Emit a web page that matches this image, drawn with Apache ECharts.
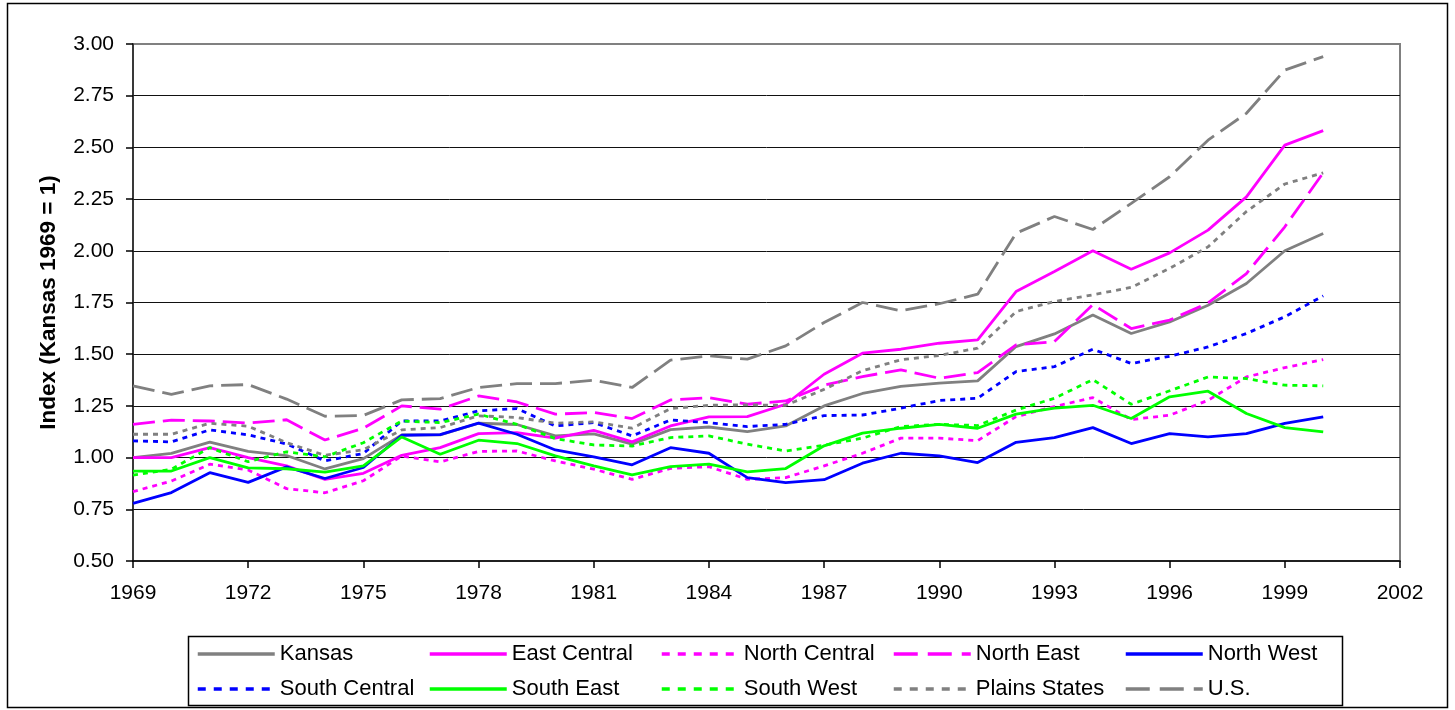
<!DOCTYPE html>
<html>
<head>
<meta charset="utf-8">
<script src="https://cdn.jsdelivr.net/npm/echarts@6/dist/echarts.min.js"></script>
<style>html,body{margin:0;padding:0;background:#fff;}#c{width:1455px;height:710px;}</style>
</head>
<body>
<div id="c"></div>
<script>
var years = [1969,1970,1971,1972,1973,1974,1975,1976,1977,1978,1979,1980,1981,1982,1983,1984,1985,1986,1987,1988,1989,1990,1991,1992,1993,1994,1995,1996,1997,1998,1999,2000];
var kansas = [1.00,1.02,1.075,1.03,1.01,0.945,0.995,1.11,1.11,1.166,1.16,1.105,1.115,1.065,1.135,1.148,1.126,1.153,1.25,1.31,1.344,1.36,1.371,1.537,1.598,1.69,1.60,1.656,1.737,1.842,2.0,2.084];
var eastCentral = [1.00,1.00,1.048,1.00,0.96,0.895,0.924,1.011,1.048,1.116,1.121,1.094,1.132,1.076,1.153,1.197,1.198,1.258,1.403,1.505,1.524,1.553,1.569,1.803,1.90,2.0,1.911,1.99,2.10,2.261,2.511,2.581];
var northCentral = [0.835,0.887,0.968,0.94,0.85,0.83,0.888,1.008,0.979,1.03,1.032,0.984,0.944,0.895,0.948,0.956,0.895,0.903,0.96,1.021,1.094,1.094,1.082,1.198,1.247,1.29,1.184,1.205,1.277,1.39,1.435,1.474];
var northEast = [1.161,1.181,1.177,1.167,1.183,1.085,1.142,1.25,1.234,1.298,1.269,1.21,1.218,1.189,1.279,1.29,1.258,1.274,1.35,1.392,1.424,1.384,1.411,1.545,1.561,1.74,1.624,1.665,1.748,1.89,2.116,2.377];
var northWest = [0.779,0.831,0.927,0.88,0.955,0.899,0.952,1.108,1.111,1.167,1.113,1.037,1.003,0.965,1.048,1.021,0.903,0.879,0.893,0.973,1.021,1.008,0.976,1.074,1.097,1.145,1.068,1.116,1.10,1.116,1.165,1.197];
var southCentral = [1.081,1.076,1.134,1.11,1.066,0.984,1.02,1.177,1.177,1.226,1.237,1.153,1.169,1.105,1.182,1.169,1.15,1.161,1.203,1.206,1.239,1.276,1.287,1.416,1.44,1.524,1.455,1.49,1.535,1.60,1.681,1.782];
var southEast = [0.935,0.935,1.0,0.95,0.946,0.93,0.96,1.10,1.016,1.084,1.068,1.008,0.96,0.916,0.956,0.968,0.931,0.947,1.057,1.118,1.142,1.161,1.142,1.21,1.239,1.253,1.189,1.294,1.321,1.213,1.145,1.124];
var southWest = [0.915,0.944,1.048,0.98,1.028,1.004,1.072,1.177,1.169,1.21,1.161,1.092,1.061,1.056,1.097,1.105,1.065,1.032,1.06,1.094,1.15,1.161,1.155,1.23,1.287,1.377,1.258,1.323,1.39,1.382,1.35,1.347];
var plainsStates = [1.113,1.113,1.166,1.152,1.072,1.011,1.038,1.134,1.145,1.202,1.194,1.166,1.173,1.142,1.237,1.253,1.255,1.253,1.33,1.42,1.473,1.494,1.529,1.706,1.755,1.787,1.823,1.915,2.019,2.19,2.323,2.377];
var us = [1.347,1.306,1.347,1.353,1.283,1.20,1.204,1.279,1.285,1.339,1.358,1.358,1.374,1.339,1.471,1.492,1.476,1.54,1.653,1.75,1.71,1.744,1.79,2.085,2.166,2.103,2.229,2.358,2.535,2.665,2.874,2.939];

var seriesNames = ['Kansas','East Central','North Central','North East','North West','South Central','South East','South West','Plains States','U.S.'];
var seriesData = [kansas,eastCentral,northCentral,northEast,northWest,southCentral,southEast,southWest,plainsStates,us];
var seriesColors = ['#808080','#FF00FF','#FF00FF','#FF00FF','#0000FF','#0000FF','#00FF00','#00FF00','#808080','#808080'];
var seriesDash = ['solid','solid','dot','dash','solid','dot','solid','dot','dot','dash'];

var FONT = 'Liberation Sans, Arial, sans-serif';
function dashType(d){
  if (d === 'dot') return [5,5];
  if (d === 'dash') return [22,8];
  return 'solid';
}
function legendDash(d){
  if (d === 'dot') return [8,8];
  if (d === 'dash') return [24,10];
  return 'solid';
}
var series = seriesNames.map(function(n,i){
  return {
    name: n, type: 'line', symbol: 'none', smooth: false,
    data: years.map(function(y,j){ return [y, seriesData[i][j]]; }),
    lineStyle: { color: seriesColors[i], width: 2.8, type: dashType(seriesDash[i]), cap: 'butt' },
    itemStyle: { color: seriesColors[i] },
    emphasis: { disabled: true },
    animation: false
  };
});

// one legend per item, laid out in a 5 x 2 grid
var legends = seriesNames.map(function(n,i){
  var col = i % 5, row = Math.floor(i / 5);
  return {
    data: [n], orient: 'horizontal', padding: 0,
    left: 196 + col * 232, top: 643 + row * 35,
    itemWidth: 77, itemHeight: 20, itemGap: 4,
    itemStyle: { opacity: 0 },
    lineStyle: { width: 3.5, type: legendDash(seriesDash[i]), color: seriesColors[i] },
    textStyle: { fontFamily: FONT, fontSize: 22, color: '#000' },
    selectedMode: false
  };
});

var chart = echarts.init(document.getElementById('c'), null, { renderer: 'canvas' });
chart.setOption({
  animation: false,
  backgroundColor: '#fff',
  grid: { left: 133, right: 55, top: 44, bottom: 149, show: true, borderColor: '#808080', borderWidth: 2, backgroundColor: 'transparent' },
  xAxis: {
    type: 'value', min: 1969, max: 2002, interval: 3,
    axisLine: { show: true, onZero: false, lineStyle: { color: '#000', width: 1.5 } },
    axisTick: { show: true, inside: false, length: 7, lineStyle: { color: '#000', width: 1.5 } },
    axisLabel: { fontFamily: FONT, fontSize: 21, color: '#000', margin: 22, formatter: function(v){ return String(v); } },
    splitLine: { show: false }
  },
  yAxis: {
    type: 'value', min: 0.5, max: 3.0, interval: 0.25,
    name: 'Index (Kansas 1969 = 1)', nameLocation: 'middle', nameGap: 73,
    nameTextStyle: { fontFamily: FONT, fontSize: 22.5, fontWeight: 'bold', color: '#000' },
    axisLine: { show: true, lineStyle: { color: '#222', width: 1.5 } },
    axisTick: { show: true, inside: false, length: 7, lineStyle: { color: '#000', width: 1.5 } },
    axisLabel: { fontFamily: FONT, fontSize: 21, color: '#000', margin: 19, formatter: function(v){ return v.toFixed(2); } },
    splitLine: { show: true, showMaxLine: false, showMinLine: false, lineStyle: { color: '#111', width: 1 } }
  },
  legend: legends,
  graphic: [
    { type: 'rect', silent: true, z: -1, shape: { x: 7.5, y: 3.5, width: 1440, height: 704 }, style: { fill: null, stroke: '#000', lineWidth: 1.5 } },
    { type: 'rect', silent: true, shape: { x: 188.5, y: 636.5, width: 1154, height: 69 }, style: { fill: null, stroke: '#000', lineWidth: 1.5 } }
  ],
  series: series
});
</script>
</body>
</html>
